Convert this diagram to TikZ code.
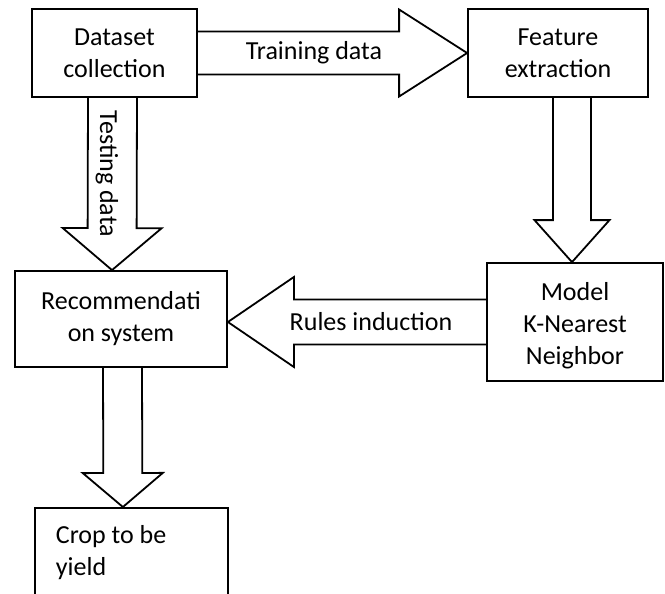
\documentclass[tikz,border=0pt]{standalone}
\usepackage{fontspec}
\setmainfont{Carlito}
\usetikzlibrary{calc}

\tikzset{
  box/.style={draw, line width=1.8pt, inner sep=0pt, align=center,
    font=\fontsize{26}{32}\selectfont},
  fat/.style={draw, line width=1.8pt, line join=miter},
  lbl/.style={inner sep=0pt, font=\fontsize{26}{32}\selectfont}
}

% block arrow: from, tip, shaft half width, head half width, head length
\newcommand{\fatarrow}[5]{%
  \draw[fat] let \p1=(#1), \p2=(#2), \n1={atan2(\y2-\y1,\x2-\x1)},
      \p3=($(\p2)+(\n1+180:#5pt)$) in
    ($(\p1)+(\n1+90:#3pt)$) -- ($(\p3)+(\n1+90:#3pt)$) -- ($(\p3)+(\n1+90:#4pt)$)
    -- (\p2) -- ($(\p3)+(\n1-90:#4pt)$) -- ($(\p3)+(\n1-90:#3pt)$)
    -- ($(\p1)+(\n1-90:#3pt)$);
}

\begin{document}
\begin{tikzpicture}[x=1pt,y=-1pt]
        \path[clip, use as bounding box] (0,0) rectangle (665,594);
        % Boxes
        \node[box, minimum width=165, minimum height=88] (data) at (114.5,53) {Dataset\\collection};
        \node[box, minimum width=180, minimum height=88] (feat) at (558,53) {Feature\\extraction};
        \node[box, minimum width=212, minimum height=96] (rec) at (121,319) {Recommendati\\on system};
        \node[box, minimum width=176, minimum height=118] (model) at (575,322) {\rule{0pt}{26pt}Model\\K-Nearest\\Neighbor};
        \node[box, align=flush left, anchor=north west, text width=151pt, inner xsep=21pt, inner ysep=18pt] (crop) at (34,507) {Crop to be\\yield};
        % Block arrows
        \fatarrow{data.east}{feat.west}{21.5}{43.5}{68}
        \fatarrow{$(data.south)+(-2,0)$}{$(rec.north)+(-9,0)$}{24.5}{49.5}{42}
        \fatarrow{$(feat.south)+(14,0)$}{$(model.north)+(-3,0)$}{19}{37.5}{42}
        \fatarrow{model.west}{$(rec.east)+(0,3)$}{22.5}{45}{66}
        \fatarrow{$(rec.south)+(1.5,0)$}{$(crop.north)+(-8.5,0)$}{19.5}{40}{34}
        % Arrow labels
        \node[lbl] (train) at (314,53) {Training data};
        \node[lbl, rotate=-90] (test) at (107,174) {Testing data};
        \node[lbl] (rules) at (371,322) {Rules induction};
\end{tikzpicture}
\end{document}
